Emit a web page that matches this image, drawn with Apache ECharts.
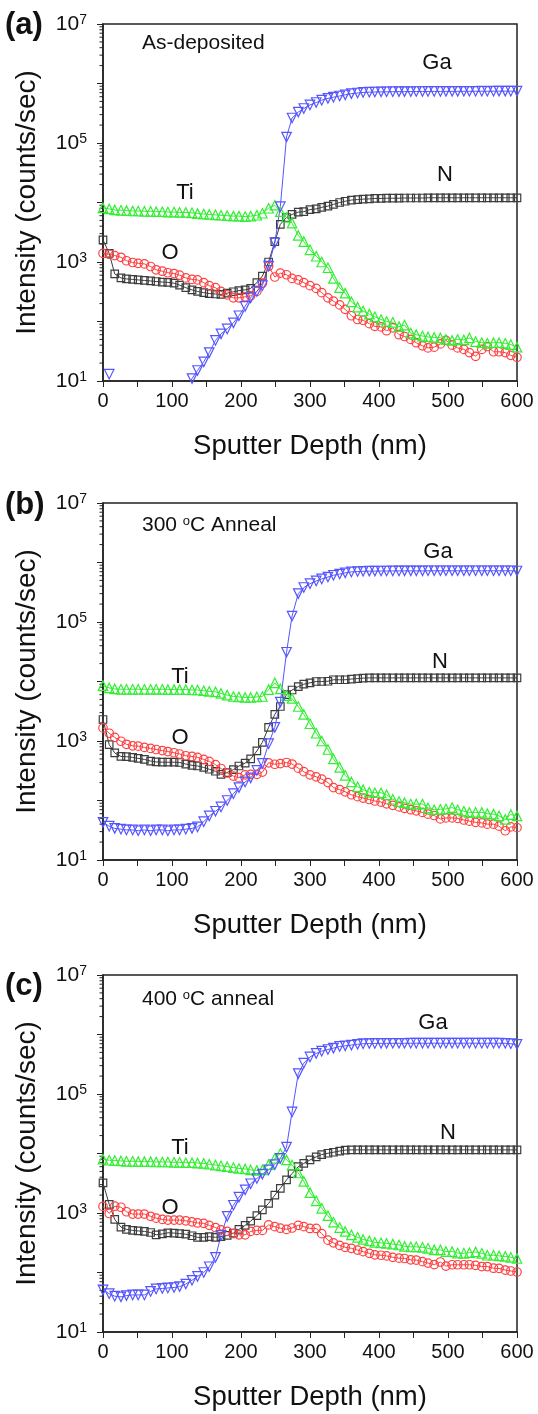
<!DOCTYPE html>
<html>
<head>
<meta charset="utf-8">
<title>SIMS depth profiles</title>
<script src="https://cdn.jsdelivr.net/npm/echarts@6/dist/echarts.min.js"></script>
<style>
html,body{margin:0;padding:0;background:#fff;}
#main{width:538px;height:1414px;}
</style>
</head>
<body>
<div id="main"></div>
<script>
// sputter depth (nm) of each measurement point
var depth = [0,9,17,26,34,43,51,60,69,77,
  86,94,103,111,120,129,137,146,154,163,
  171,180,189,197,206,214,223,231,240,249,
  257,266,274,283,291,300,309,317,326,334,
  343,351,360,369,377,386,394,403,411,420,
  429,437,446,454,463,471,480,489,497,506,
  514,523,531,540,549,557,566,574,583,591,600];

// (a) as-deposited
var gaA = [null,13,null,null,null,null,null,null,null,null,
  null,null,null,null,6,11,15,21,30,48,
  62,75,95,125,180,250,320,400,850,2100,
  8500,126000,263000,331000,380000,436000,479000,525000,562000,589000,
  617000,646000,676000,692000,708000,715000,720000,724000,726000,728000,
  730000,730000,732000,734000,734000,735000,736000,736000,738000,738000,
  738000,740000,740000,740000,742000,740000,742000,744000,744000,742000,742000];
var nA = [2350,1400,630,540,520,510,500,490,480,470,
  460,455,440,410,370,340,320,305,295,290,
  285,300,316,330,340,360,450,580,1000,2200,
  4300,5600,6300,6900,7000,7600,7800,8300,8700,9300,
  10000,10500,11000,11200,11400,11500,11700,11700,11800,11800,
  11800,11900,11900,11900,11900,12000,12000,12000,12000,12000,
  12000,12000,12000,12000,12000,12000,12000,12000,12000,12000,12000];
var tiA = [8100,7800,7500,7400,7300,7200,7200,7100,7100,7000,
  7000,6900,6900,6800,6800,6700,6500,6400,6300,6200,
  6100,6000,5900,5900,5800,5900,6100,6600,8000,9000,
  7000,5600,4500,2800,2200,1600,1250,1000,800,530,
  370,300,214,174,150,133,120,108,100,97,
  82,87,64,60,57,55,54,53,50,48,
  50,49,53,46,44,43,44,44,43,41,37];
var oA = [1400,1350,1280,1200,1050,980,950,930,840,740,
  700,660,640,600,540,510,500,450,400,370,
  320,280,250,250,260,270,320,440,850,560,
  650,610,530,500,450,400,360,305,250,220,
  190,160,125,108,105,92,83,81,70,78,
  60,56,50,44,39,36,37,42,48,40,
  36,34,30,26,34,38,31,31,30,27,25];

// (b) 300 C anneal
var gaB = [43,37,34,33,32,32,31,32,31,32,
  32,31,32,32,33,34,36,44,55,66,
  78,100,130,165,205,240,320,420,900,1700,
  4500,31000,126000,300000,380000,440000,490000,530000,570000,610000,
  640000,670000,695000,705000,712000,716000,718000,720000,720000,722000,
  722000,724000,724000,724000,724000,726000,726000,726000,726000,726000,
  726000,726000,726000,726000,726000,726000,726000,726000,726000,726000,720000];
var nB = [2300,870,630,550,545,530,510,490,460,445,
  440,440,440,435,410,390,380,360,335,310,
  275,295,330,380,425,500,680,950,1700,2800,
  3800,6000,7200,8200,9000,9500,10000,10000,10100,10700,
  10700,10700,11000,11200,11400,11500,11500,11500,11500,11500,
  11500,11500,11500,11500,11500,11500,11500,11500,11500,11500,
  11500,11500,11500,11500,11500,11500,11500,11500,11500,11500,11500];
var tiB = [8500,7800,7500,7400,7400,7400,7400,7400,7400,7400,
  7400,7300,7300,7300,7300,7200,7200,7000,6800,6700,
  6300,5900,5600,5500,5400,5400,5500,5600,7300,9500,
  7500,5800,5200,3800,2800,1950,1350,1000,720,500,
  360,265,205,170,152,138,135,135,125,105,
  96,92,87,87,87,75,70,71,72,76,
  70,66,63,63,63,60,59,55,48,58,55];
var oB = [1660,1350,1150,990,880,830,820,780,750,720,
  690,665,635,605,565,550,530,490,455,400,
  345,290,257,242,270,275,275,300,430,407,
  417,435,410,350,305,270,250,229,200,165,
  152,140,125,116,110,104,98,94,88,83,
  78,74,70,67,63,59,56,49,51,51,
  50,47,45,43,42,40,40,37,31,36,35];

// (c) 400 C anneal
var gaC = [51,44,40,39,41,42,42,42,48,53,
  54,55,56,58,64,74,86,100,125,180,
  420,880,1350,1850,2450,3100,3800,4500,5300,6500,
  8300,12800,50000,220000,330000,420000,480000,525000,560000,590000,
  630000,645000,665000,685000,700000,705000,708000,710000,710000,712000,
  712000,712000,714000,714000,714000,714000,714000,714000,714000,714000,
  714000,714000,714000,714000,714000,714000,714000,714000,712000,700000,680000];
var nC = [3200,1400,780,580,530,510,500,490,470,430,
  445,465,460,450,440,415,390,390,400,390,
  400,420,460,530,620,730,900,1130,1450,2000,
  2600,3600,4600,6000,6800,7800,8800,9600,10100,10500,
  11000,11400,11500,11500,11500,11500,11500,11500,11500,11500,
  11500,11500,11500,11500,11500,11500,11500,11500,11500,11500,
  11500,11500,11500,11500,11500,11500,11500,11500,11500,11500,11500];
var tiC = [8000,7700,7600,7500,7400,7400,7300,7300,7300,7200,
  7200,7200,7100,7100,7000,7000,6900,6800,6600,6400,
  6200,6000,5800,5600,5500,5300,5200,5300,6500,8300,
  10000,7800,6400,4700,3400,2200,1600,1200,900,700,
  570,490,430,390,360,340,320,315,308,300,
  290,275,270,270,265,255,240,240,225,225,
  212,210,215,222,210,195,195,190,186,180,172];
var oC = [1290,980,1300,1250,1050,960,960,960,880,820,
  780,760,760,760,740,710,680,670,620,570,
  520,490,450,430,430,490,510,510,630,590,
  555,530,560,620,590,550,550,450,350,315,
  285,265,255,238,224,210,198,195,190,180,
  174,172,163,162,152,144,136,150,128,135,
  135,135,135,132,126,126,118,117,110,106,102];

// axis ticks / labels
var yLabelExp = [1, 3, 5, 7];
var yMinorTicks = [20,30,40,50,60,70,80,90,
  200,300,400,500,600,700,800,900,
  2000,3000,4000,5000,6000,7000,8000,9000,
  20000,30000,40000,50000,60000,70000,80000,90000,
  200000,300000,400000,500000,600000,700000,800000,900000,
  2000000,3000000,4000000,5000000,6000000,7000000,8000000,9000000];
var panelTags = ['(a)', '(b)', '(c)'];
var panelNotes = ['As-deposited', '300 {deg|o}C Anneal', '400 {deg|o}C anneal'];
var speciesNames = ['Ga', 'N', 'Ti', 'O'];

var panels = [
  {ga: gaA, n: nA, ti: tiA, o: oA},
  {ga: gaB, n: nB, ti: tiB, o: oB},
  {ga: gaC, n: nC, ti: tiC, o: oC}
];

// layout
var FONT = 'Liberation Sans, Arial, sans-serif';
var gridTops = [24, 503, 975];
var gridH = 357;
var gridLeft = 103, gridW = 414;
// label positions per panel: Ga, N, Ti, O  (pixel centres)
var labelPos = [
  [[437, 63], [445, 175], [185, 193], [170, 253]],
  [[438, 552], [440, 662], [180, 677], [180, 738]],
  [[433, 1023], [448, 1133], [180, 1148], [170, 1208]]
];
var noteY = [43, 525, 999];
var tagY = [25, 505, 986];

var styles = {
  ga: {color: '#5555ff', symbol: 'triangle', rotate: 180, size: 9.5},
  n:  {color: '#3c3c3c', symbol: 'rect', rotate: 0, size: 7.5},
  ti: {color: '#33ee33', symbol: 'triangle', rotate: 0, size: 9.5},
  o:  {color: '#ff4040', symbol: 'circle', rotate: 0, size: 8.5}
};
var drawOrder = ['n', 'o', 'ti', 'ga'];

function toPoints(arr) {
  return depth.map(function (d, i) {
    return [d, arr[i] == null ? '-' : arr[i]];
  });
}

var grids = [], xAxes = [], yAxes = [], series = [], graphics = [];

panels.forEach(function (p, k) {
  grids.push({
    left: gridLeft, top: gridTops[k], width: gridW, height: gridH,
    show: true, borderColor: '#222', borderWidth: 1.5, backgroundColor: 'transparent'
  });
  xAxes.push({
    gridIndex: k, type: 'value', min: 0, max: 600, interval: 50,
    axisLine: {lineStyle: {color: '#222', width: 1.5}},
    axisTick: {inside: false, length: 6, lineStyle: {color: '#222', width: 1}},
    splitLine: {show: false},
    axisLabel: {
      color: '#111', fontSize: 20, fontFamily: FONT, margin: 10,
      formatter: function (v) { return v % 100 === 0 ? String(v) : ''; }
    },
    name: 'Sputter Depth (nm)', nameLocation: 'middle', nameGap: 51,
    nameTextStyle: {color: '#111', fontSize: 27.5, fontFamily: FONT}
  });
  yAxes.push({
    gridIndex: k, type: 'log', logBase: 10, min: 10, max: 10000000,
    axisLine: {lineStyle: {color: '#222', width: 1.5}},
    axisTick: {inside: false, length: 6, lineStyle: {color: '#222', width: 1}},
    splitLine: {show: false},
    axisLabel: {
      color: '#111', fontSize: 21, fontFamily: FONT, margin: 16,
      formatter: function (v) {
        var e = Math.round(Math.log(v) / Math.LN10);
        return yLabelExp.indexOf(e) >= 0 ? '10{sup|' + e + '}' : '';
      },
      rich: {sup: {fontSize: 14, fontFamily: FONT, color: '#111', verticalAlign: 'top'}}
    },
    name: 'Intensity (counts/sec)', nameLocation: 'middle', nameGap: 62,
    nameTextStyle: {color: '#111', fontSize: 28, fontFamily: FONT}
  });

  // log minor ticks on the left axis
  series.push({
    type: 'custom', xAxisIndex: k, yAxisIndex: k, silent: true, clip: false, z: 1,
    data: yMinorTicks.map(function (v) { return [0, v]; }),
    renderItem: function (params, api) {
      var c = api.coord([0, api.value(1)]);
      return {
        type: 'line',
        shape: {x1: c[0] - 3.5, y1: c[1], x2: c[0], y2: c[1]},
        style: {stroke: '#222', lineWidth: 1}
      };
    }
  });

  drawOrder.forEach(function (key) {
    var st = styles[key];
    series.push({
      type: 'line', xAxisIndex: k, yAxisIndex: k,
      name: key, data: toPoints(p[key]),
      symbol: st.symbol, symbolSize: st.size, symbolRotate: st.rotate,
      showAllSymbol: true, clip: true, animation: false,
      lineStyle: {color: st.color, width: 1},
      itemStyle: {color: 'rgba(255,255,255,0)', borderColor: st.color, borderWidth: 1.2},
      emphasis: {disabled: true}
    });
  });

  graphics.push({
    type: 'text', x: 5, y: tagY[k],
    style: {text: panelTags[k], font: 'bold 31px ' + FONT, fill: '#111', align: 'left', verticalAlign: 'middle'}
  });
  graphics.push({
    type: 'text', x: 142, y: noteY[k],
    style: {
      text: panelNotes[k], fontSize: 21, fontFamily: FONT, fill: '#111',
      align: 'left', verticalAlign: 'middle',
      rich: {deg: {fontSize: 13, fontFamily: FONT, fill: '#111', verticalAlign: 'top'}}
    }
  });
  speciesNames.forEach(function (nm, j) {
    graphics.push({
      type: 'text', x: labelPos[k][j][0], y: labelPos[k][j][1],
      style: {text: nm, fontSize: 22, fontFamily: FONT, fill: '#111', align: 'center', verticalAlign: 'middle'}
    });
  });
});

var chart = echarts.init(document.getElementById('main'));
chart.setOption({
  animation: false,
  backgroundColor: '#fff',
  textStyle: {fontFamily: FONT},
  grid: grids,
  xAxis: xAxes,
  yAxis: yAxes,
  series: series,
  graphic: graphics
});
</script>
</body>
</html>
